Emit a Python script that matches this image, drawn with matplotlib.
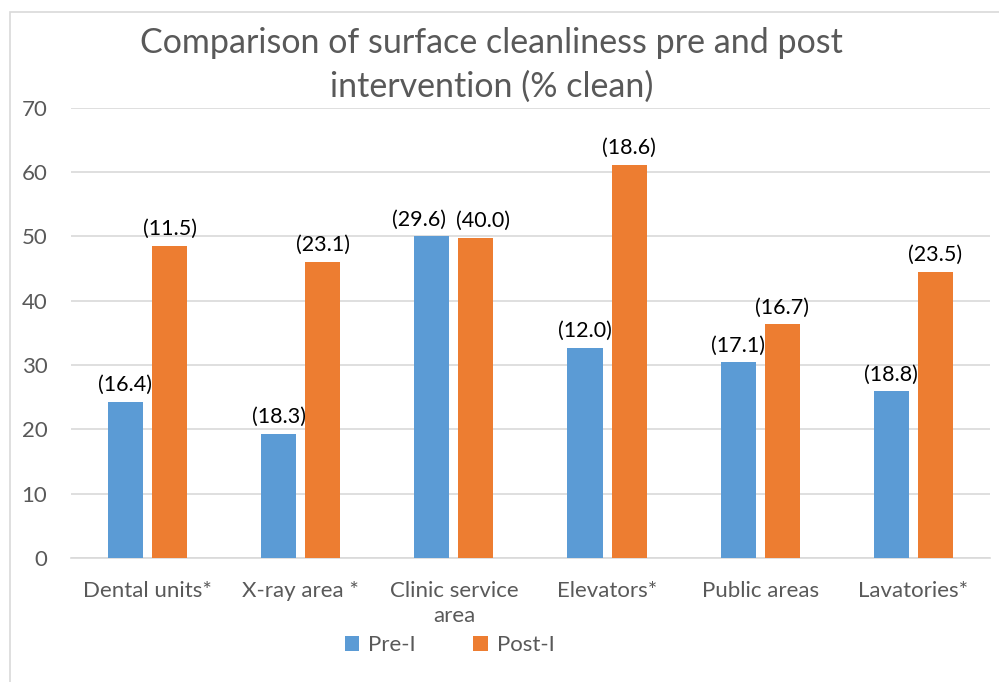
import numpy as np
import matplotlib.pyplot as plt
from matplotlib.patches import Rectangle

# Dane
kategorie = ['Dental units*', 'X-ray area *', 'Clinic service\narea', 'Elevators*',
             'Public areas', 'Lavatories*']
pre = [24.2, 19.3, 50.0, 32.6, 30.4, 25.9]
post = [48.5, 46.0, 49.7, 61.1, 36.3, 44.5]
pre_lab = ['(16.4)', '(18.3)', '(29.6)', '(12.0)', '(17.1)', '(18.8)']
post_lab = ['(11.5)', '(23.1)', '(40.0)', '(18.6)', '(16.7)', '(23.5)']

plt.rcParams['font.family'] = ['Lato', 'DejaVu Sans']
szary = '#595959'
niebieski = '#5B9BD5'
pomaranczowy = '#ED7D31'

fig = plt.figure(figsize=(9.99, 6.82), dpi=100)
ax = fig.add_axes([0.071, 0.182, 0.92, 0.66])

# ramka wykresu
fig.patches.append(Rectangle((10 / 999, -0.1), 1.2, 1 - 12 / 682 + 0.1,
                             transform=fig.transFigure, fill=False,
                             edgecolor='#D9D9D9', linewidth=1.2))

x = np.arange(len(kategorie))
w = 0.229
d = 0.144
b1 = ax.bar(x - d, pre, w, color=niebieski, label='Pre-I', zorder=3)
b2 = ax.bar(x + d, post, w, color=pomaranczowy, label='Post-I', zorder=3)

# etykiety; przy "Clinic service area" rozsuniete jak w Excelu
for bars, labs, sdv in ((b1, pre_lab, -9), (b2, post_lab, 5)):
    for i, (b, t) in enumerate(zip(bars, labs)):
        dx = sdv if i == 2 else 0
        ax.annotate(t, (b.get_x() + b.get_width() / 2, b.get_height()),
                    xytext=(dx, 5), textcoords='offset points',
                    ha='center', va='bottom', fontsize=15.5, color='black')

ax.set_ylim(0, 70)
ax.set_xlim(-0.5, len(kategorie) - 0.5)
ax.set_yticks(range(0, 71, 10))
ax.set_xticks(x)
ax.set_xticklabels(kategorie, fontsize=16, color=szary, linespacing=1.3)
ax.tick_params(axis='y', labelsize=16, labelcolor=szary, length=0, pad=17)
ax.tick_params(axis='x', length=0, pad=17)
ax.grid(axis='y', color='#D9D9D9', linewidth=1.2, zorder=0)
for s in ['top', 'right', 'left']:
    ax.spines[s].set_visible(False)
ax.spines['bottom'].set_color('#D9D9D9')
ax.spines['bottom'].set_linewidth(1.2)

fig.text(0.492, 0.905, 'Comparison of surface cleanliness pre and post\nintervention (% clean)',
         ha='center', va='center', fontsize=24.5, color=szary, linespacing=1.45)

fig.legend(handles=[b1, b2], loc='center', bbox_to_anchor=(0.45, 0.054), ncol=2,
           frameon=False, fontsize=16, labelcolor=szary, handlelength=0.65,
           handleheight=0.65, columnspacing=2.6, handletextpad=0.4)

fig.savefig('out.png', dpi=100)
